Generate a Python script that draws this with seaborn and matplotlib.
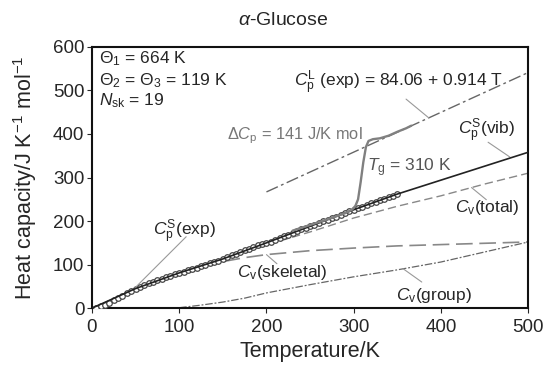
import matplotlib
matplotlib.use("Agg")
import matplotlib.pyplot as plt
import seaborn as sns

# ---------------- data ----------------
T_exp = [5, 10, 15, 20, 25, 30, 35, 40, 45, 50, 55, 60, 65, 70, 75, 80, 85, 90, 95, 100,
         105, 110, 115, 120, 125, 130, 135, 140, 145, 150, 155, 160, 165, 170, 175, 180,
         185, 190, 195, 200, 205, 210, 215, 220, 225, 230, 235, 240, 245, 250, 255, 260,
         265, 270, 275, 280, 285, 290, 295, 300, 305, 310, 315, 320, 325, 330, 335, 340,
         345, 350]
Cp_exp = [1, 4, 8, 13, 18, 23, 29, 34, 40, 45, 49, 53, 57, 61, 65, 68, 72, 75, 78, 81,
          84, 87, 90, 93, 96, 99, 103, 106, 109, 113, 117, 121, 125, 129, 133, 137,
          141, 145, 148, 150, 153, 157, 161, 165, 169, 173, 177, 181, 185, 188, 192, 196,
          199, 203, 206, 210, 214, 218, 222, 226, 230, 233, 237, 241, 244, 248, 251, 255,
          258, 262]

T_meas = [230, 250, 270, 290, 298, 302, 305, 308, 311, 314, 317, 322, 330, 340, 350, 360, 366]
Cp_meas = [178, 191, 204, 218, 226, 235, 250, 290, 335, 370, 384, 388, 390, 396, 405, 413, 419]

T_liq = [200, 500]
Cp_liq = [266.9, 541.1]

T_vib = [0, 50, 100, 150, 200, 250, 300, 350, 400, 450, 500]
Cp_vib = [0, 45, 81, 113, 150, 188, 226, 262, 294, 326, 358]

T_tot = [0, 50, 100, 150, 200, 250, 300, 350, 400, 450, 500]
Cv_tot = [0, 44, 78, 110, 145, 175, 207, 234, 258, 285, 310]

T_skel = [0, 25, 50, 75, 100, 125, 150, 175, 200, 250, 300, 350, 400, 450, 500]
Cv_skel = [0, 20, 44, 63, 80, 95, 107, 116, 123, 132, 138, 143, 146, 149, 152]

T_grp = [100, 125, 150, 175, 200, 250, 300, 350, 400, 450, 500]
Cv_grp = [1, 7, 14, 23, 35, 54, 72, 88, 106, 129, 152]

x_ticks = [0, 100, 200, 300, 400, 500]
y_ticks = [0, 100, 200, 300, 400, 500, 600]

# ---------------- style ----------------
sns.set_style("ticks")
plt.rcParams['font.family'] = ['Liberation Sans', 'DejaVu Sans']
plt.rcParams['mathtext.fontset'] = 'custom'
plt.rcParams['mathtext.rm'] = 'Liberation Sans'
plt.rcParams['mathtext.it'] = 'Liberation Sans:italic'
plt.rcParams['mathtext.bf'] = 'Liberation Sans:bold'

fig = plt.figure(figsize=(5.44, 3.66), dpi=100)
ax = fig.add_axes([0.169, 0.158, 0.802, 0.714])

grey_txt = '#777777'

sns.lineplot(x=T_liq, y=Cp_liq, ax=ax, color='#666666', lw=1.0,
             linestyle=(0, (9, 2.5, 2, 2.5)))
sns.lineplot(x=T_grp, y=Cv_grp, ax=ax, color='#666666', lw=0.9,
             linestyle=(0, (6, 1.5, 1.5, 1.5)))
sns.lineplot(x=T_skel, y=Cv_skel, ax=ax, color='#888888', lw=1.2,
             linestyle=(0, (10, 4)))
sns.lineplot(x=T_tot, y=Cv_tot, ax=ax, color='#888888', lw=1.0,
             linestyle=(0, (6, 3)))
sns.scatterplot(x=T_exp, y=Cp_exp, ax=ax, marker='o', s=16, facecolor='white',
                edgecolor='#444444', linewidth=0.9, zorder=3)
sns.lineplot(x=T_vib, y=Cp_vib, ax=ax, color='#222222', lw=1.2, zorder=4)
sns.lineplot(x=T_meas, y=Cp_meas, ax=ax, color='#808080', lw=1.7, zorder=5)

ax.set_xlim(0, 500)
ax.set_ylim(0, 600)
ax.set_xticks(x_ticks)
ax.set_yticks(y_ticks)
ax.tick_params(axis='both', labelsize=13.5, length=3.5, width=0.8, direction='out', pad=2)
ax.tick_params(axis='x', pad=4)
for s in ax.spines.values():
    s.set_visible(True)
    s.set_linewidth(1.5)
    s.set_color('#111111')

ax.set_xlabel('Temperature/K', fontsize=15.5, labelpad=4)
ax.set_ylabel(r'Heat capacity/J K$^{-1}$ mol$^{-1}$', fontsize=15.5, labelpad=10)
fig.text(0.52, 0.943, r'$\alpha$-Glucose', fontsize=14, ha='center', va='center')

fs = 12.5
ax.text(8, 573, r'$\Theta_1$ = 664 K', fontsize=fs, va='center')
ax.text(8, 522, r'$\Theta_2$ = $\Theta_3$ = 119 K', fontsize=fs, va='center')
ax.text(8, 476, r'$N_{\mathrm{sk}}$ = 19', fontsize=fs, va='center')

ax.text(232, 517, r'$C_{\mathrm{p}}^{\mathrm{L}}$ (exp) = 84.06 + 0.914 T', fontsize=fs, va='center')
ax.text(155, 395, r'$\Delta C_{\mathrm{p}}$ = 141 J/K mol', fontsize=11.8, va='center', color=grey_txt)
ax.text(315, 323, r'$T_{\mathrm{g}}$ = 310 K', fontsize=fs, va='center', color='#555555')
ax.text(420, 406, r'$C_{\mathrm{p}}^{\mathrm{S}}$(vib)', fontsize=fs, va='center')
ax.text(416, 231, r'$C_{\mathrm{v}}$(total)', fontsize=fs, va='center')
ax.text(70, 176, r'$C_{\mathrm{p}}^{\mathrm{S}}$(exp)', fontsize=fs, va='center')
ax.text(166, 83, r'$C_{\mathrm{v}}$(skeletal)', fontsize=fs, va='center')
ax.text(348, 30, r'$C_{\mathrm{v}}$(group)', fontsize=fs, va='center')

lead = dict(arrowstyle='-', color='#999999', lw=0.8, shrinkA=0, shrinkB=0)
ax.annotate('', xy=(386, 437), xytext=(360, 480), arrowprops=lead)
ax.annotate('', xy=(479, 347), xytext=(454, 381), arrowprops=lead)
ax.annotate('', xy=(435, 277), xytext=(452, 249), arrowprops=lead)
ax.annotate('', xy=(49, 46), xytext=(108, 164), arrowprops=lead)
ax.annotate('', xy=(200, 123), xytext=(212, 102), arrowprops=lead)
ax.annotate('', xy=(357, 90), xytext=(378, 60), arrowprops=lead)

fig.savefig('out.png', dpi=100)
